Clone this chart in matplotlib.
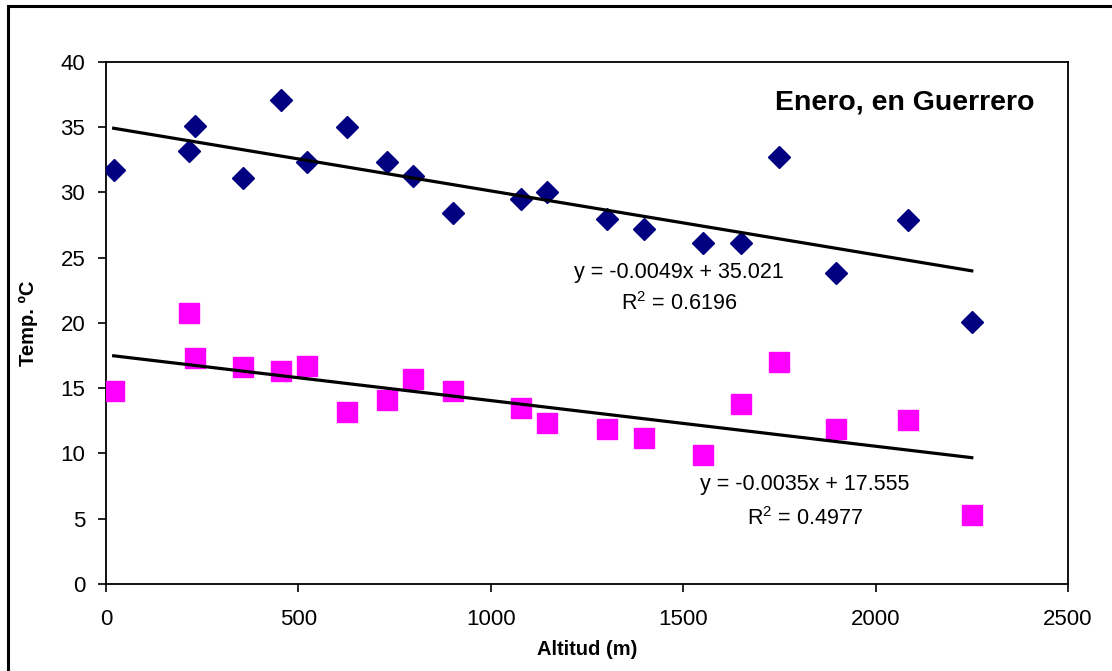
import matplotlib
matplotlib.use('Agg')
import matplotlib.pyplot as plt
from matplotlib.patches import Rectangle

plt.rcParams['font.family'] = ['Liberation Sans', 'DejaVu Sans']
plt.rcParams['mathtext.default'] = 'regular'

# altitude of each station (m)
altitud = [20, 216, 231, 357, 455, 522, 626, 730, 798, 902,
           1078, 1146, 1303, 1397, 1552, 1649, 1748, 1898, 2084, 2250]
# January maximum and minimum temperature (C)
temp_max = [31.7, 33.2, 35.1, 31.1, 37.1, 32.3, 35.0, 32.3, 31.3, 28.4,
            29.5, 30.0, 28.0, 27.2, 26.1, 26.1, 32.7, 23.8, 27.9, 20.1]
temp_min = [14.8, 20.8, 17.3, 16.6, 16.3, 16.7, 13.2, 14.1, 15.7, 14.8,
            13.5, 12.3, 11.9, 11.2, 9.9, 13.8, 17.0, 11.9, 12.6, 5.3]

# trend lines as printed on the chart
fit_max = (-0.0049, 35.021, 0.6196)
fit_min = (-0.0035, 17.555, 0.4977)

title = 'Enero, en Guerrero'
x_ticks = [0, 500, 1000, 1500, 2000, 2500]
y_ticks = [0, 5, 10, 15, 20, 25, 30, 35, 40]

fig = plt.figure(figsize=(11.12, 6.71), dpi=100)
ax = fig.add_axes([0.0953, 0.1297, 0.8651, 0.7779])

ax.plot(altitud, temp_max, linestyle='none', marker='D', markersize=11.5,
        color='#000080', zorder=3)
ax.plot(altitud, temp_min, linestyle='none', marker='s', markersize=14,
        color='#FF00FF', zorder=3)

x0, x1 = min(altitud), max(altitud)
for m, b, r2 in (fit_max, fit_min):
    ax.plot([x0, x1], [m * x0 + b, m * x1 + b], color='black', lw=2.3, zorder=4)

ax.text(1489, 23.9, f'y = {fit_max[0]}x + {fit_max[1]}', ha='center', va='center', fontsize=15.5)
ax.text(1489, 21.5, f'R$^{{2}}$ = {fit_max[2]}', ha='center', va='center', fontsize=15.5)
ax.text(1817, 7.6, f'y = {fit_min[0]}x + {fit_min[1]}', ha='center', va='center', fontsize=15.5)
ax.text(1817, 5.0, f'R$^{{2}}$ = {fit_min[2]}', ha='center', va='center', fontsize=15.5)

ax.text(0.9657, 0.9215, title, transform=ax.transAxes, ha='right', va='center',
        fontsize=20.5, fontweight='bold')

ax.set_xlim(0, 2500)
ax.set_ylim(0, 40)
ax.set_xticks(x_ticks)
ax.set_yticks(y_ticks)
ax.tick_params(axis='both', direction='out', length=6, width=1.2, labelsize=16)
ax.tick_params(axis='x', pad=12)
ax.tick_params(axis='y', pad=9)
for sp in ax.spines.values():
    sp.set_linewidth(1.3)

ax.set_xlabel('Altitud (m)', fontsize=14.5, fontweight='bold')
ax.set_ylabel('Temp. ºC', fontsize=14.5, fontweight='bold')
ax.xaxis.set_label_coords(0.5, -0.107)
ax.yaxis.set_label_coords(-0.071, 0.5)

# outer chart-area border
fig.patches.append(Rectangle((8 / 1112, -0.1), 1.2, 1.1 - 6 / 671,
                             transform=fig.transFigure, fill=False,
                             edgecolor='black', lw=2.2))

fig.savefig('out.png', dpi=100)
